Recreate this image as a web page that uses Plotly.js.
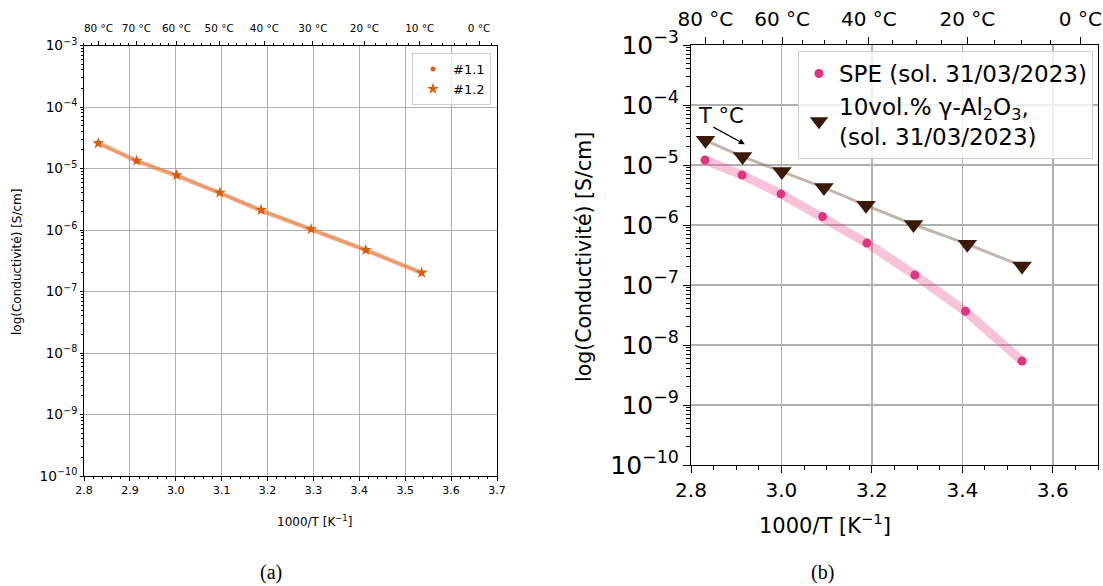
<!DOCTYPE html>
<html><head><meta charset="utf-8">
<script src="https://cdn.plot.ly/plotly-3.0.1.min.js"></script>
<style>html,body{margin:0;padding:0;background:#fff}#c{width:1103px;height:586px}</style>
</head><body><div id="c"></div>
<script>
// ---------- data (a) ----------
const invT_11 = [2.831, 2.915, 3.002, 3.096, 3.186, 3.295, 3.414, 3.536];
const sig_11  = [2.62e-5, 1.31e-5, 7.6e-6, 4.0e-6, 2.06e-6, 1.02e-6, 4.7e-7, 2.0e-7];
const invT_12 = [2.831, 2.915, 3.002, 3.096, 3.186, 3.295, 3.414, 3.536];
const sig_12  = [2.57e-5, 1.34e-5, 7.8e-6, 4.05e-6, 2.11e-6, 1.03e-6, 4.73e-7, 2.02e-7];
// ---------- data (b) ----------
const invT_spe = [2.831, 2.913, 2.999, 3.091, 3.189, 3.295, 3.407, 3.532];
const sig_spe  = [1.21e-5, 6.8e-6, 3.3e-6, 1.38e-6, 5.0e-7, 1.47e-7, 3.65e-8, 5.4e-9];
const invT_al  = [2.832, 2.914, 3.001, 3.094, 3.187, 3.292, 3.411, 3.532];
const sig_al   = [2.58e-5, 1.38e-5, 7.76e-6, 4.2e-6, 2.13e-6, 1.02e-6, 4.8e-7, 2.07e-7];
// ---------- top-axis temperatures ----------
const tempMajorA = [80, 70, 60, 50, 40, 30, 20, 10, 0];
const tempMinorA = [84,82,78,76,74,72,68,66,64,62,58,56,54,52,48,46,44,42,38,36,34,32,28,26,24,22,18,16,14,12,8,6,4,2,-2,-4];
const tempMajorB = [80, 60, 40, 20, 0];
const tempMinorB = [75, 70, 65, 55, 50, 45, 35, 30, 25, 15, 10, 5];
const inv = T => 1000 / (T + 273.15);
const lbl = T => T + ' °C';

const F = 'DejaVu Sans, sans-serif';
const markerOrange = '#d95f0e';
const lineOrange = 'rgba(230,120,60,0.5)';

const traces = [
  {x: invT_11, y: sig_11, xaxis:'x', yaxis:'y', mode:'lines', line:{color:lineOrange, width:4.5}, showlegend:false, hoverinfo:'skip'},
  {x: invT_12, y: sig_12, xaxis:'x', yaxis:'y', mode:'lines', line:{color:lineOrange, width:3}, showlegend:false, hoverinfo:'skip'},
  {x: invT_11, y: sig_11, xaxis:'x', yaxis:'y', mode:'markers', name:'#1.1', legend:'legend', marker:{symbol:'circle', color:markerOrange, size:5}},
  {x: invT_12, y: sig_12, xaxis:'x', yaxis:'y', mode:'markers', name:'#1.2', legend:'legend', marker:{symbol:'star', color:markerOrange, size:9}},
  {x: [], y: [], xaxis:'x2', yaxis:'y', mode:'markers', showlegend:false, hoverinfo:'skip'},
  {x: invT_spe, y: sig_spe, xaxis:'x3', yaxis:'y3', mode:'lines', line:{color:'rgba(231,80,150,0.35)', width:9}, showlegend:false, hoverinfo:'skip'},
  {x: invT_al, y: sig_al, xaxis:'x3', yaxis:'y3', mode:'lines', line:{color:'rgba(120,90,75,0.45)', width:3}, showlegend:false, hoverinfo:'skip'},
  {x: invT_spe, y: sig_spe, xaxis:'x3', yaxis:'y3', mode:'markers', name:'SPE (sol. 31/03/2023)', legend:'legend2', marker:{symbol:'circle', color:'#e0357e', size:9}},
  {x: invT_al, y: sig_al, xaxis:'x3', yaxis:'y3', mode:'markers', name:'10vol.% γ-Al<sub>2</sub>O<sub>3</sub>,<br>(sol. 31/03/2023)', legend:'legend2', marker:{symbol:'triangle-down', color:'#3a1a06', size:17}},
  {x: [], y: [], xaxis:'x4', yaxis:'y3', mode:'markers', showlegend:false, hoverinfo:'skip'}
];

const gridC = '#b0b0b0';
const baseAx = (fs, tl) => ({showline:true, linecolor:'#000', linewidth:1, ticks:'outside', ticklen:tl, tickwidth:1, tickcolor:'#000', tickfont:{family:F, size:fs, color:'#000'}, zeroline:false});

const layout = {
  width:1103, height:586, margin:{l:0,r:0,t:0,b:0}, paper_bgcolor:'#fff', plot_bgcolor:'#fff',
  font:{family:F, color:'#000'},
  xaxis: Object.assign(baseAx(11,3.5), {domain:[84/1103, 497/1103], anchor:'y', range:[2.8,3.7], tickmode:'array', tickvals:[2.8,2.9,3.0,3.1,3.2,3.3,3.4,3.5,3.6,3.7], ticktext:['2.8','2.9','3.0','3.1','3.2','3.3','3.4','3.5','3.6','3.7'], showgrid:true, gridcolor:gridC, gridwidth:1, mirror:true, minor:{ticklen:2, dtick:0.02, showgrid:false, tickcolor:'#000'}}),
  xaxis2: Object.assign(baseAx(10.5,3.5), {overlaying:'x', side:'top', anchor:'y', range:[2.8,3.7], showline:false, showgrid:false, ticklabelstandoff:5, tickmode:'array', tickvals:tempMajorA.map(inv), ticktext:tempMajorA.map(lbl), minor:{ticklen:2, tickmode:'array', tickvals:tempMinorA.map(inv), showgrid:false, tickcolor:'#000'}}),
  yaxis: Object.assign(baseAx(11,3.5), {domain:[1-476/586, 1-45.5/586], anchor:'x', type:'log', range:[-10,-3], dtick:1, exponentformat:'power', showgrid:true, gridcolor:gridC, gridwidth:1, mirror:true, minor:{ticklen:2, dtick:'D1', showgrid:false, tickcolor:'#000'}}),
  xaxis3: Object.assign(baseAx(20,7), {domain:[691/1103, 1098/1103], anchor:'y3', range:[2.8,3.7], tickmode:'array', tickvals:[2.8,3.0,3.2,3.4,3.6], ticktext:['2.8','3.0','3.2','3.4','3.6'], showgrid:true, gridcolor:gridC, gridwidth:1.5, mirror:true, minor:{ticklen:4, dtick:0.05, showgrid:false, tickcolor:'#000'}}),
  xaxis4: Object.assign(baseAx(20,7), {overlaying:'x3', side:'top', anchor:'y3', range:[2.8,3.7], showline:false, showgrid:false, ticklabelstandoff:3, tickmode:'array', tickvals:tempMajorB.map(inv), ticktext:tempMajorB.map(lbl), minor:{ticklen:4, tickmode:'array', tickvals:tempMinorB.map(inv), showgrid:false, tickcolor:'#000'}}),
  yaxis3: Object.assign(baseAx(20,7), {domain:[1-465/586, 1-45/586], anchor:'x3', type:'log', range:[-10,-3], dtick:1, exponentformat:'power', showgrid:true, gridcolor:gridC, gridwidth:1.5, mirror:true, minor:{ticklen:4, dtick:'D1', showgrid:false, tickcolor:'#000'}}),
  legend: {x:491/1103, xanchor:'right', y:1-53/586, yanchor:'top', bgcolor:'rgba(255,255,255,0.8)', bordercolor:'#d0d0d0', borderwidth:1, font:{family:F, size:13}, itemwidth:30},
  legend2: {x:1093/1103, xanchor:'right', y:1-51/586, yanchor:'top', bgcolor:'rgba(255,255,255,0.8)', bordercolor:'#d0d0d0', borderwidth:1, font:{family:F, size:23}, itemwidth:30, tracegroupgap:2},
  annotations: [
    {xref:'paper', yref:'paper', x:8/1103, y:1-262/586, text:'log(Conductivité) [S/cm]', textangle:-90, showarrow:false, font:{family:F, size:12}},
    {xref:'paper', yref:'paper', x:275/1103, y:1-531/586, text:'1000/T [K<sup>−1</sup>]', showarrow:false, font:{family:F, size:12}},
    {xref:'paper', yref:'paper', x:584/1103, y:1-257/586, text:'log(Conductivité) [S/cm]', textangle:-90, showarrow:false, font:{family:F, size:20.5}},
    {xref:'paper', yref:'paper', x:893/1103, y:1-540/586, text:'1000/T [K<sup>−1</sup>]', showarrow:false, font:{family:F, size:21}},
    {xref:'paper', yref:'paper', x:258/1103, y:0, yanchor:'bottom', text:'(a)', showarrow:false, font:{family:'Liberation Serif, DejaVu Serif, serif', size:20}},
    {xref:'paper', yref:'paper', x:836/1103, y:0, yanchor:'bottom', text:'(b)', showarrow:false, font:{family:'Liberation Serif, DejaVu Serif, serif', size:20}},
    {xref:'x3', yref:'y3', x:2.866, y:-4.19, text:'T °C', showarrow:false, font:{family:F, size:21}},
    {xref:'x3', yref:'y3', x:2.919, y:-4.655, axref:'x3', ayref:'y3', ax:2.846, ay:-4.355, text:'', showarrow:true, arrowhead:2, arrowsize:1, arrowwidth:1.2, arrowcolor:'#000'}
  ]
};
Plotly.newPlot('c', traces, layout, {staticPlot:true});
</script></body></html>
